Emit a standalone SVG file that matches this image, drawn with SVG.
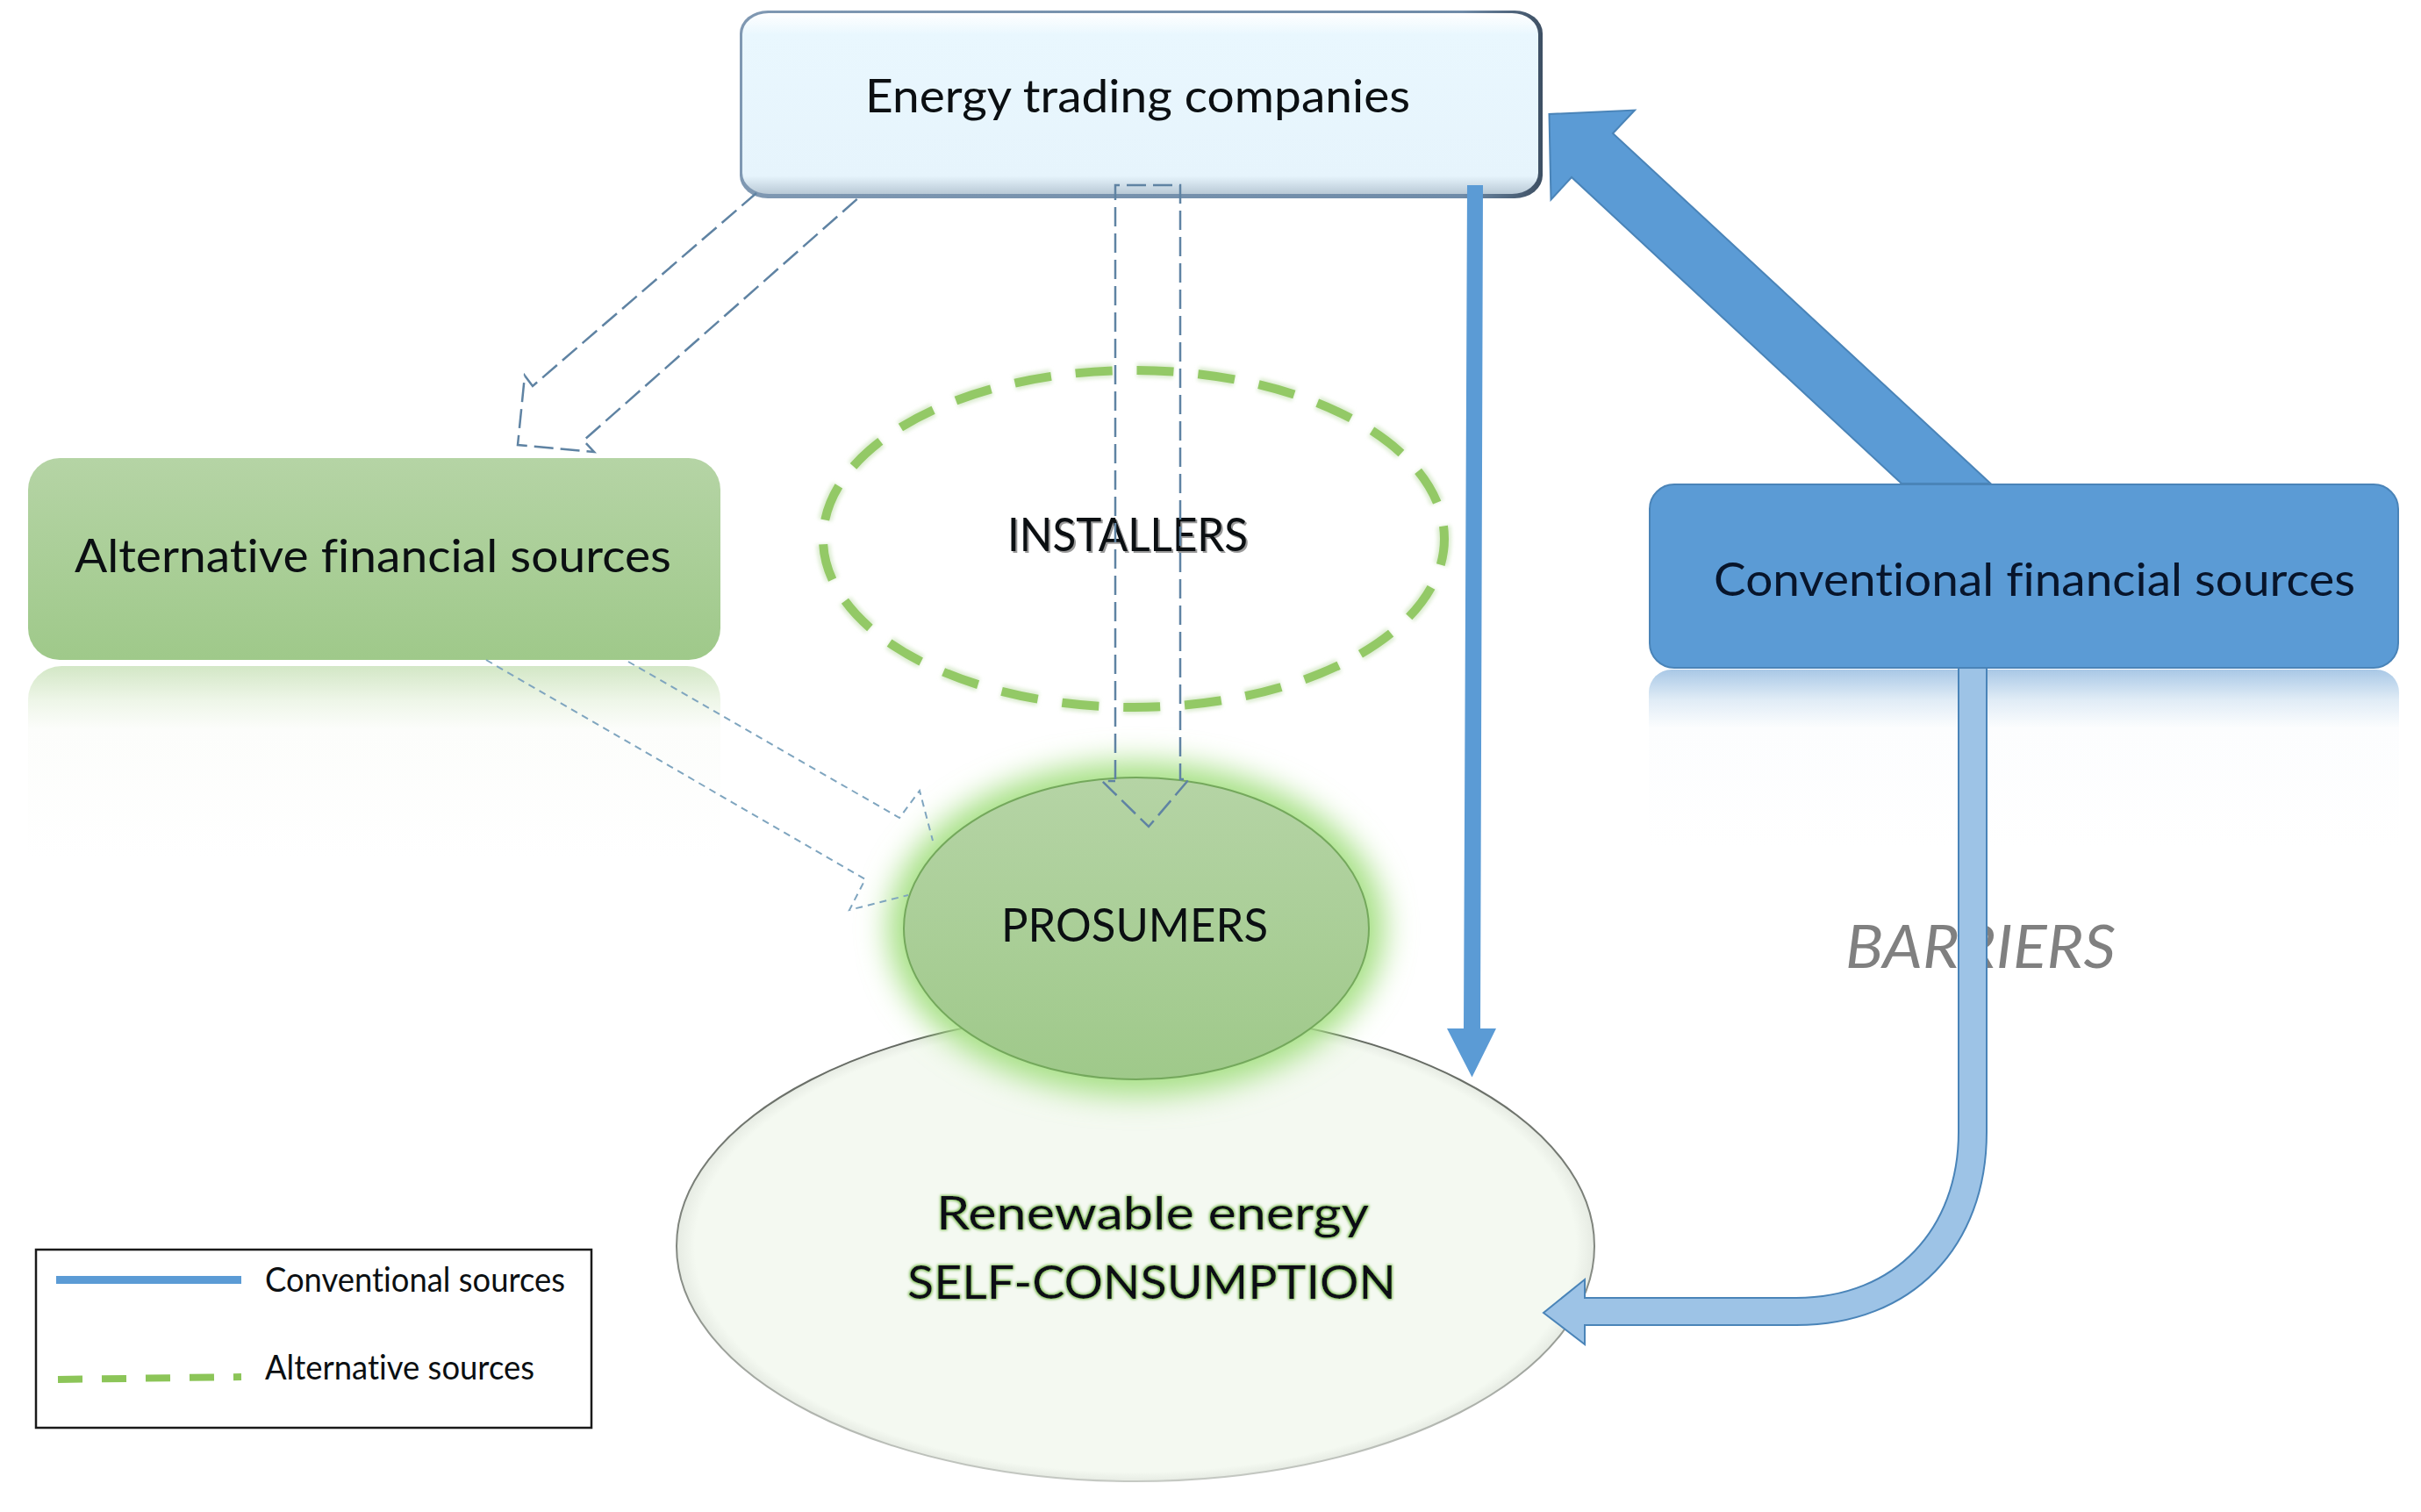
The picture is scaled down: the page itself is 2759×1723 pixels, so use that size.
<svg xmlns="http://www.w3.org/2000/svg" width="2759" height="1723" viewBox="0 0 2759 1723">
<style>
text{font-family:"Lato","Liberation Sans",sans-serif;fill:#0b0f12;font-variant-ligatures:none}
.t{font-size:53px}
.l{font-size:39px}
.da{fill:none;stroke:#5f83a3;stroke-width:2.5;stroke-dasharray:22 8}
.db{fill:none;stroke:#7fa5bf;stroke-width:2;stroke-dasharray:8 6}
</style>
<defs>
<linearGradient id="gTop" x1="0" y1="0" x2="0" y2="1"><stop offset="0" stop-color="#ffffff"/><stop offset=".12" stop-color="#e9f7fe"/><stop offset=".9" stop-color="#e6f4fc"/><stop offset="1" stop-color="#b9c9d6"/></linearGradient>
<linearGradient id="gEdge" x1="0" y1="0" x2="1" y2="0"><stop offset="0" stop-color="#7f98b2"/><stop offset=".9" stop-color="#6f8ba8"/><stop offset="1" stop-color="#3d4f63"/></linearGradient>
<linearGradient id="gGreen" x1="0" y1="0" x2="0" y2="1"><stop offset="0" stop-color="#b5d4a5"/><stop offset="1" stop-color="#9fc98a"/></linearGradient>
<linearGradient id="rGreen" x1="0" y1="0" x2="0" y2="1"><stop offset="0" stop-color="#d3e7c6"/><stop offset=".18" stop-color="#eef6e8"/><stop offset=".33" stop-color="#fcfdfb"/><stop offset="1" stop-color="#ffffff"/></linearGradient>
<linearGradient id="rBlue" x1="0" y1="0" x2="0" y2="1"><stop offset="0" stop-color="#a9c8e6"/><stop offset=".17" stop-color="#e0ecf6"/><stop offset=".33" stop-color="#fcfdfe"/><stop offset="1" stop-color="#ffffff"/></linearGradient>
<linearGradient id="sSelf" x1="0" y1="0" x2="0" y2="1"><stop offset="0" stop-color="#5f645d"/><stop offset=".6" stop-color="#8a8f88"/><stop offset="1" stop-color="#c5c9c3"/></linearGradient>
<radialGradient id="gSelf" cx=".5" cy=".5" r=".5"><stop offset="0" stop-color="#f4f9f1"/><stop offset=".96" stop-color="#f4f9f1"/><stop offset="1" stop-color="#e6ebe3"/></radialGradient>
<filter id="glow" x="-25%" y="-25%" width="150%" height="150%"><feGaussianBlur stdDeviation="17"/></filter>
<filter id="soft" x="-10%" y="-10%" width="120%" height="120%"><feGaussianBlur stdDeviation="2.2"/></filter>
<filter id="tg" x="-5%" y="-20%" width="110%" height="140%"><feMorphology in="SourceAlpha" operator="dilate" radius="1.2" result="d"/><feGaussianBlur in="d" stdDeviation="1.6" result="b"/><feFlood flood-color="#7dbb55"/><feComposite in2="b" operator="in" result="c"/><feMerge><feMergeNode in="c"/><feMergeNode in="SourceGraphic"/></feMerge></filter>
</defs>
<rect width="2759" height="1723" fill="#ffffff"/>

<g id="energy-trading-companies">
<rect x="843" y="12" width="915" height="214" rx="32" ry="26" fill="url(#gEdge)"/>
<rect x="846" y="15" width="907" height="206" rx="30" ry="24" fill="url(#gTop)"/>
<text class="t" x="986" y="128" textLength="621" lengthAdjust="spacingAndGlyphs">Energy trading companies</text>
</g>

<g id="alternative-financial-sources">
<path d="M32 977V797a38 38 0 0 1 38-38H783a38 38 0 0 1 38 38V977Z" fill="url(#rGreen)"/>
<rect x="32" y="522" width="789" height="230" rx="36" fill="url(#gGreen)"/>
<text class="t" x="85" y="652" textLength="680" lengthAdjust="spacingAndGlyphs">Alternative financial sources</text>
</g>

<g id="conventional-financial-sources">
<path d="M1879 965V789a26 26 0 0 1 26-26H2708a26 26 0 0 1 26 26V965Z" fill="url(#rBlue)"/>
<rect x="1880" y="552" width="853" height="209" rx="28" fill="#5b9bd5" stroke="#4a84b8" stroke-width="2"/>
<text class="t" x="1953" y="679" textLength="731" lengthAdjust="spacingAndGlyphs" style="fill:#08152b">Conventional financial sources</text>
</g>

<g id="installers">
<ellipse cx="1292" cy="614" rx="354" ry="192" fill="none" stroke="#dcecd0" stroke-width="16" stroke-dasharray="42 28" stroke-dashoffset="12" filter="url(#soft)"/>
<ellipse cx="1292" cy="614" rx="354" ry="192" fill="none" stroke="#93c966" stroke-width="10" stroke-dasharray="42 28" stroke-dashoffset="12"/>
<text class="t" x="1148" y="628" textLength="274" lengthAdjust="spacingAndGlyphs" style="fill:#9a9a9a" dx="2" dy="2">INSTALLERS</text>
<text class="t" x="1148" y="628" textLength="274" lengthAdjust="spacingAndGlyphs">INSTALLERS</text>
</g>

<g id="self-consumption">
<ellipse cx="1294" cy="1420" rx="523" ry="268" fill="url(#gSelf)" stroke="url(#sSelf)" stroke-width="2"/>
<text class="t" x="1067" y="1401" textLength="493" lengthAdjust="spacingAndGlyphs" filter="url(#tg)">Renewable energy</text>
<text class="t" x="1034" y="1480" textLength="557" lengthAdjust="spacingAndGlyphs" filter="url(#tg)">SELF-CONSUMPTION</text>
</g>

<g id="prosumers">
<ellipse cx="1295" cy="1058" rx="283" ry="190" fill="#a6e084" filter="url(#glow)"/>
<ellipse cx="1295" cy="1058" rx="265" ry="172" fill="url(#gGreen)" stroke="#74a85c" stroke-width="2"/>
<text class="t" x="1141" y="1073" textLength="304" lengthAdjust="spacingAndGlyphs">PROSUMERS</text>
</g>

<g id="barriers">
<text x="2103" y="1103" textLength="308" lengthAdjust="spacingAndGlyphs" style="font-size:68px;font-style:italic;fill:#808080">BARRIERS</text>
</g>

<g id="connectors">
<path d="M2167 551L1791 202L1767.500 227.500L1765.500 130L1863 125.500L1838 152L2268.500 551Z" fill="#5b9bd5" stroke="#4a84b8" stroke-width="2"/>
<path d="M1672 211H1690L1687 1172H1705L1677.500 1227.500L1649 1172H1668Z" fill="#5b9bd5"/>
<path d="M2232 761V1290C2232 1400 2160 1479 2047 1479H1806V1458L1759 1496L1806 1532V1510H2047C2180 1510 2264 1420 2264 1290V761Z" fill="#9dc3e6" stroke="#4a84b8" stroke-width="2"/>
<path class="da" d="M862 220L607 440L598 428L590 507L677 515L665 502L980 224"/>
<path class="da" d="M1271 888V211H1345V888H1355L1309 942L1256 890H1271"/>
<path class="db" d="M554 752L986 1002L968 1037L1035 1020"/>
<path class="db" d="M716 754L1025 932L1048 901L1063 958"/>
</g>

<g id="legend">
<rect x="41" y="1424" width="633" height="203" fill="#ffffff" stroke="#1a1a1a" stroke-width="2.500"/>
<path d="M64 1458.500H275" stroke="#5b9bd5" stroke-width="9" fill="none"/>
<path d="M66 1572L275 1569" stroke="#8cc558" stroke-width="8" stroke-dasharray="28 22" fill="none"/>
<text class="l" x="302" y="1472" textLength="342" lengthAdjust="spacingAndGlyphs">Conventional sources</text>
<text class="l" x="302" y="1572" textLength="307" lengthAdjust="spacingAndGlyphs">Alternative sources</text>
</g>
</svg>
